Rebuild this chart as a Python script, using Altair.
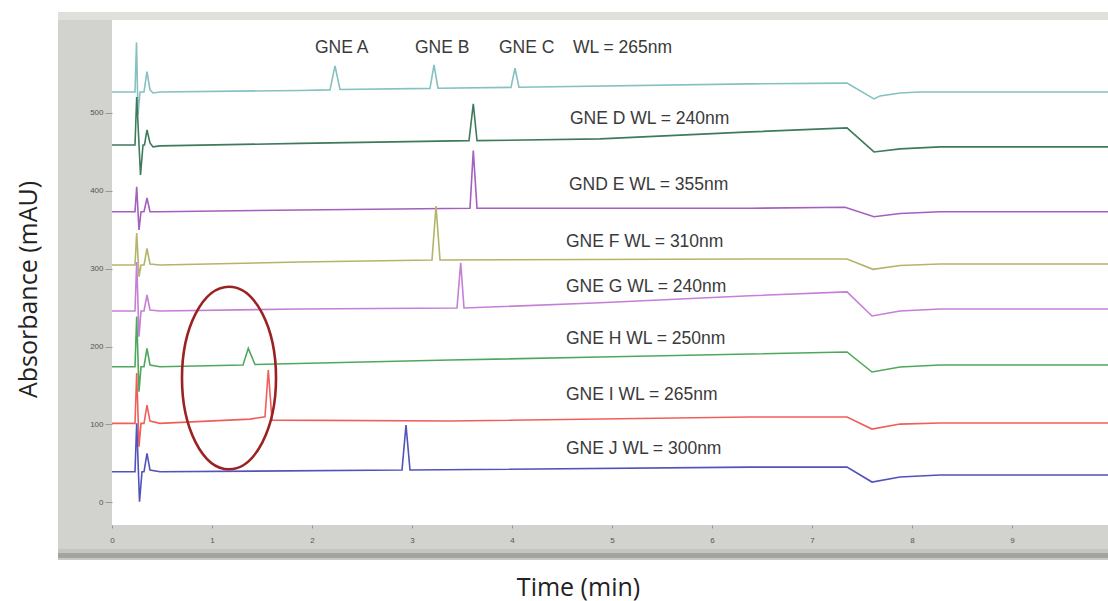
import altair as alt
import pandas as pd

# ---------------- data ----------------
series_names = ["GNE A-C", "GNE D", "GND E", "GNE F", "GNE G", "GNE H", "GNE I", "GNE J"]
series_colors = ["#86c0c0", "#3f7a5c", "#a45fbf", "#b4b46a", "#c67fd6", "#4ea85c", "#ef5f5a", "#5252bb"]

abc_t = [0, 0.23, 0.245, 0.26, 0.28, 0.32, 0.35, 0.38, 0.41, 0.48, 1.88, 2.18, 2.23, 2.28,
         3.18, 3.22, 3.26, 3.99, 4.03, 4.07, 6.38, 7.35, 7.62, 7.68, 7.88, 8.08, 9.96]
abc_v = [526.7, 526.7, 590.0, 497.2, 526.7, 526.7, 552.8, 529.3, 525.4, 526.7, 528.6, 529.3, 560.1, 529.9,
         531.2, 561.4, 531.5, 532.5, 557.1, 532.7, 537.1, 538.0, 517.7, 521.6, 525.4, 526.7, 526.7]

d_t = [0, 0.23, 0.247, 0.285, 0.31, 0.325, 0.35, 0.38, 0.41, 0.48, 1.88, 3.57, 3.613, 3.65,
       4.88, 6.38, 7.35, 7.62, 7.88, 8.28, 9.96]
d_v = [458.7, 458.7, 520.3, 420.2, 458.7, 458.7, 477.9, 461.3, 456.2, 457.5, 460.7, 464.2, 511.3, 464.2,
       466.4, 475.4, 480.5, 449.7, 453.6, 456.2, 456.2]

e_t = [0, 0.23, 0.247, 0.27, 0.29, 0.32, 0.35, 0.38, 0.48, 1.88, 3.58, 3.613, 3.65,
       6.38, 7.33, 7.62, 7.88, 8.28, 9.96]
e_v = [373.0, 373.0, 405.1, 349.6, 373.0, 373.0, 390.6, 373.0, 373.0, 375.2, 377.4, 451.6, 377.4,
       377.4, 378.7, 366.6, 370.7, 373.0, 373.0]

f_t = [0, 0.23, 0.247, 0.27, 0.29, 0.32, 0.35, 0.38, 0.48, 1.88, 3.20, 3.24, 3.28,
       6.38, 7.35, 7.61, 7.88, 8.28, 9.96]
f_v = [304.6, 304.6, 345.6, 289.6, 304.6, 304.6, 325.8, 305.9, 304.6, 308.5, 311.0, 380.4, 311.0,
       312.3, 312.3, 299.1, 303.9, 305.9, 305.9]

g_t = [0, 0.23, 0.247, 0.27, 0.29, 0.32, 0.35, 0.38, 0.48, 1.88, 3.45, 3.487, 3.52,
       4.88, 6.38, 7.35, 7.60, 7.88, 8.28, 9.96]
g_v = [245.6, 245.6, 308.4, 212.6, 245.6, 245.6, 266.1, 246.9, 245.6, 248.2, 249.4, 307.5, 249.4,
       256.1, 265.1, 270.2, 239.2, 245.6, 248.2, 248.2]

h_t = [0, 0.23, 0.247, 0.27, 0.29, 0.32, 0.35, 0.38, 0.48, 1.31, 1.363, 1.43,
       3.38, 4.88, 6.38, 7.35, 7.60, 7.88, 8.28, 9.96]
h_v = [174.1, 174.1, 238.5, 142.1, 174.1, 174.1, 197.7, 176.3, 174.1, 176.3, 197.7, 176.9,
       182.7, 186.5, 190.4, 193.0, 167.3, 173.7, 176.3, 176.3]

i_t = [0, 0.23, 0.247, 0.27, 0.29, 0.32, 0.35, 0.38, 0.48, 1.38, 1.53, 1.563, 1.60,
       3.38, 6.38, 7.35, 7.60, 7.88, 8.28, 9.96]
i_v = [101.4, 101.4, 166.0, 71.4, 101.4, 101.4, 124.9, 104.4, 101.4, 106.9, 109.9, 169.8, 105.6,
       104.4, 109.5, 109.5, 94.1, 100.5, 101.8, 101.8]

j_t = [0, 0.23, 0.247, 0.275, 0.30, 0.32, 0.35, 0.38, 0.48, 2.90, 2.94, 2.98,
       6.38, 7.35, 7.60, 7.88, 8.28, 9.96]
j_v = [39.3, 39.3, 101.4, 0.8, 39.3, 39.3, 62.9, 41.5, 39.3, 41.5, 99.2, 41.5,
       45.3, 45.3, 26.1, 32.5, 35.1, 35.1]

label_text = ["GNE A", "GNE B", "GNE C", "WL = 265nm", "GNE D WL = 240nm", "GND E WL = 355nm",
              "GNE F WL = 310nm", "GNE G WL = 240nm", "GNE H WL = 250nm", "GNE I WL = 265nm",
              "GNE J WL = 300nm"]
label_t = [2.03, 3.03, 3.87, 4.61, 4.58, 4.57, 4.54, 4.54, 4.54, 4.54, 4.54]
label_v = [576.8, 576.8, 576.8, 576.8, 485.6, 400.9, 327.7, 270.0, 203.5, 131.3, 62.0]

circle_t = [1.17]
circle_v = [159.6]

x_ticks = [0, 1, 2, 3, 4, 5, 6, 7, 8, 9]
y_ticks = [0, 100, 200, 300, 400, 500]

# ---------------- build tables ----------------
all_t = [abc_t, d_t, e_t, f_t, g_t, h_t, i_t, j_t]
all_v = [abc_v, d_v, e_v, f_v, g_v, h_v, i_v, j_v]
rows = []
for name, ts, vs in zip(series_names, all_t, all_v):
    for k, (t, v) in enumerate(zip(ts, vs)):
        rows.append({"series": name, "t": t, "v": v, "k": k})
df = pd.DataFrame(rows)
labels = pd.DataFrame({"text": label_text, "t": label_t, "v": label_v})
circ = pd.DataFrame({"t": circle_t, "v": circle_v})

W, H = 996, 505
xscale = alt.Scale(domain=[0, 9.96], nice=False, zero=False)
yscale = alt.Scale(domain=[-29, 619], nice=False, zero=False)

one = alt.Data(values=[{}])


def frame_rect(x1, x2, y1, y2, color):
    return alt.Chart(one).mark_rect(color=color, strokeWidth=0).encode(
        x=alt.value(x1), x2=alt.value(x2), y=alt.value(y1), y2=alt.value(y2))


frame = alt.layer(
    frame_rect(-54, W, -8, 531, "#d2d2ce"),
    frame_rect(-54, W, -8, 0, "#dfdfdb"),
    frame_rect(-54, W, 529, 533, "#c4c4c0"),
    frame_rect(-54, W, 533, 538, "#a3a3a1"),
    frame_rect(-54, W, 538, 540, "#c8c8c6"),
    frame_rect(0, W, 0, H, "#ffffff"),
)

lines = alt.Chart(df).mark_line(strokeWidth=1.6, clip=True).encode(
    x=alt.X("t:Q", scale=xscale, axis=alt.Axis(
        values=x_ticks, format="d", title="Time (min)", grid=False, domain=False,
        tickSize=3, tickColor="#9a9a9a", labelPadding=8, labelFlush=False,
        labelFont="Liberation Sans", labelFontSize=8, labelColor="#555555",
        titleFont="Open Sans", titleFontSize=25, titleFontWeight="normal", titleColor="#222222",
        titleX=466, titleY=62, titleBaseline="middle", titleAlign="center", zindex=1)),
    y=alt.Y("v:Q", scale=yscale, axis=alt.Axis(
        values=y_ticks, format="d", title="Absorbance (mAU)", grid=False, domain=False,
        tickSize=7, tickColor="#9a9a9a", labelPadding=2,
        labelFont="Liberation Sans", labelFontSize=8, labelColor="#555555",
        titleFont="Open Sans", titleFontSize=25, titleFontWeight="normal", titleColor="#222222",
        titleX=-84, titleY=269, titleBaseline="middle", titleAlign="center", titleAngle=270,
        zindex=1)),
    color=alt.Color("series:N", scale=alt.Scale(domain=series_names, range=series_colors), legend=None),
    order="k:Q",
)

texts = alt.Chart(labels).mark_text(
    align="left", baseline="alphabetic", font="Liberation Sans",
    fontSize=17.5, color="#3a3a3a").encode(
    x=alt.X("t:Q", scale=xscale), y=alt.Y("v:Q", scale=yscale), text="text:N")

ellipse = alt.Chart(circ).mark_point(
    shape="M0,-1 A0.515,1 0 1,1 0,1 A0.515,1 0 1,1 0,-1 Z",
    size=33343, filled=False, stroke="#9b2222", strokeWidth=2.6, opacity=1).encode(
    x=alt.X("t:Q", scale=xscale), y=alt.Y("v:Q", scale=yscale))

chart = alt.layer(frame, lines, texts, ellipse).properties(
    width=W, height=H,
    autosize=alt.AutoSizeParams(type="none"),
    padding={"left": 112, "top": 20, "right": 0, "bottom": 76},
    background="white",
).configure_view(fill="white", stroke=None)

chart.save("out.html", embed_options={"renderer": "svg", "actions": False})
